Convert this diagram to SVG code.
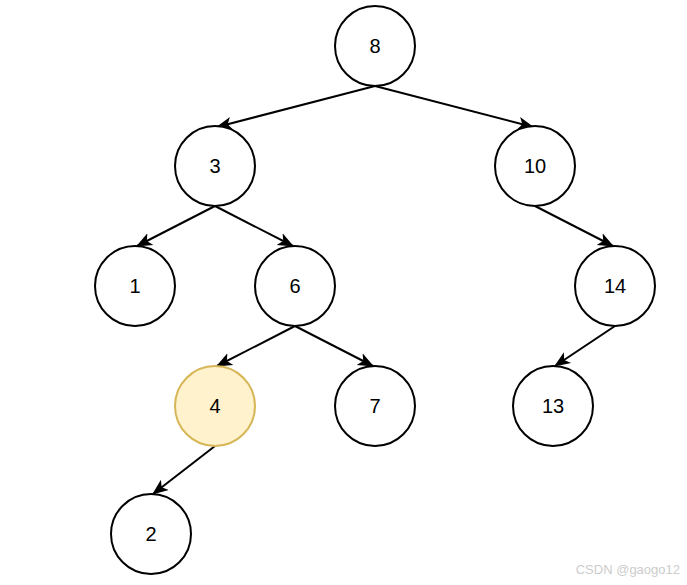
<svg xmlns="http://www.w3.org/2000/svg" width="687" height="585" viewBox="0 0 687 585">
<style>
.n circle{fill:#fff;stroke:#000;stroke-width:2}
.n text{font-family:"Liberation Sans",Arial,sans-serif;font-size:20px;fill:#000;text-anchor:middle;dominant-baseline:central}
.e line{stroke:#000;stroke-width:2;marker-end:url(#a)}
.hl circle{fill:#fff2cc;stroke:#d6b656}
</style>
<defs>
<marker id="a" markerWidth="16" markerHeight="16" viewBox="0 0 16 16" refX="15" refY="8" orient="auto" markerUnits="userSpaceOnUse">
<path d="M0,1.5 L16,8 L0,14.5 L4,8 Z" fill="#000"/>
</marker>
</defs>
<rect width="687" height="585" fill="#fff"/>
<g id="connectors" class="e">
<line x1="375" y1="86" x2="217" y2="127"/>
<line x1="375" y1="86" x2="533" y2="127"/>
<line x1="215" y1="206" x2="137" y2="246"/>
<line x1="215" y1="206" x2="293" y2="246"/>
<line x1="535" y1="206" x2="613" y2="246"/>
<line x1="295" y1="326" x2="217" y2="366"/>
<line x1="295" y1="326" x2="373" y2="366"/>
<line x1="615" y1="326" x2="555" y2="366"/>
<line x1="215" y1="446" x2="153" y2="494"/>
</g>
<g id="n8" class="n"><circle cx="375" cy="46" r="40"/><text x="375" y="46">8</text></g>
<g id="n3" class="n"><circle cx="215" cy="166" r="40"/><text x="215" y="166">3</text></g>
<g id="n10" class="n"><circle cx="535" cy="166" r="40"/><text x="535" y="166">10</text></g>
<g id="n1" class="n"><circle cx="135" cy="286" r="40"/><text x="135" y="286">1</text></g>
<g id="n6" class="n"><circle cx="295" cy="286" r="40"/><text x="295" y="286">6</text></g>
<g id="n14" class="n"><circle cx="615" cy="286" r="40"/><text x="615" y="286">14</text></g>
<g id="n4" class="n hl"><circle cx="215" cy="406" r="40"/><text x="215" y="406">4</text></g>
<g id="n7" class="n"><circle cx="375" cy="406" r="40"/><text x="375" y="406">7</text></g>
<g id="n13" class="n"><circle cx="553" cy="406" r="40"/><text x="553" y="406">13</text></g>
<g id="n2" class="n"><circle cx="151" cy="534" r="40"/><text x="151" y="534">2</text></g>
<text x="680" y="574" font-family="'Liberation Sans',Arial,sans-serif" font-size="13" fill="#cccccc" text-anchor="end">CSDN @gaogo12</text>
</svg>
